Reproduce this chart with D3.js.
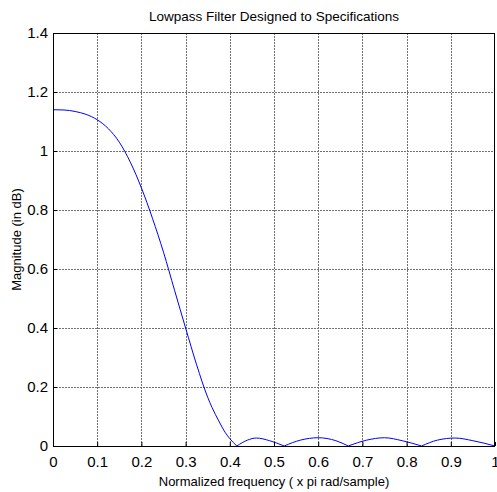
<!DOCTYPE html>
<html>
<head>
<meta charset="utf-8">
<script src="https://cdn.jsdelivr.net/npm/d3@7"></script>
<style>
  body { margin: 0; background: #fff; }
  text { font-family: "Liberation Sans Narrow", "Liberation Sans", Arial, sans-serif; fill: #000; }
</style>
</head>
<body>
<div id="chart"></div>
<script>
// normalized frequency (x pi rad/sample) and magnitude
const freq = [0, 0.025, 0.05, 0.075, 0.1, 0.125, 0.15, 0.175, 0.2, 0.225, 0.25, 0.275,
              0.3, 0.325, 0.35, 0.36, 0.375, 0.39, 0.4, 0.416, 0.44, 0.46, 0.49, 0.523,
              0.56, 0.6, 0.64, 0.668, 0.71, 0.75, 0.79, 0.834, 0.87, 0.91, 0.95, 1.0];
const mag = [1.14, 1.139, 1.134, 1.124, 1.106, 1.076, 1.03, 0.962, 0.875, 0.772, 0.657, 0.528,
             0.40, 0.275, 0.165, 0.13, 0.085, 0.045, 0.025, 0.0, 0.02, 0.027, 0.018, 0.0,
             0.02, 0.028, 0.018, 0.0, 0.02, 0.028, 0.018, 0.0, 0.02, 0.027, 0.018, 0.0];

const xTicks = [0, 0.1, 0.2, 0.3, 0.4, 0.5, 0.6, 0.7, 0.8, 0.9, 1];
const yTicks = [0, 0.2, 0.4, 0.6, 0.8, 1, 1.2, 1.4];

const W = 497, H = 492;
const margin = {top: 33, right: 2, bottom: 46, left: 53};
const width = W - margin.left - margin.right,
      height = H - margin.top - margin.bottom;

const svg = d3.select("#chart")
    .append("svg")
    .attr("width", W)
    .attr("height", H);

const g = svg.append("g")
    .attr("transform", `translate(${margin.left},${margin.top})`);

const x = d3.scaleLinear().domain([0, 1]).range([0, width]);
const y = d3.scaleLinear().domain([0, 1.4]).range([height, 0]);

// grid
g.append("g")
    .selectAll("line")
    .data(xTicks.slice(1, -1))
    .join("line")
    .attr("x1", d => Math.round(x(d)) + 0.5)
    .attr("x2", d => Math.round(x(d)) + 0.5)
    .attr("y1", 0)
    .attr("y2", height)
    .attr("stroke", "#707070")
    .attr("stroke-dasharray", "2,1");

g.append("g")
    .selectAll("line")
    .data(yTicks.slice(1, -1))
    .join("line")
    .attr("y1", d => Math.round(y(d)) + 0.5)
    .attr("y2", d => Math.round(y(d)) + 0.5)
    .attr("x1", 0)
    .attr("x2", width)
    .attr("stroke", "#707070")
    .attr("stroke-dasharray", "2,1");

// the response curve, split at the nulls so they stay sharp
const pts = freq.map((f, i) => ({f: f, m: mag[i]}));
const lobes = [];
let cur = [];
pts.forEach((p, i) => {
    cur.push(p);
    if (p.m === 0 && i > 0 && i < pts.length - 1) {
        lobes.push(cur);
        cur = [p];
    }
});
lobes.push(cur);

const line = d3.line()
    .x(d => x(d.f))
    .y(d => y(d.m))
    .curve(d3.curveMonotoneX);

g.append("path")
    .attr("fill", "none")
    .attr("stroke", "#0000ff")
    .attr("stroke-width", 1)
    .attr("d", lobes.map(l => line(l)).join(""));

// axes (inward ticks like matlab)
const xAxis = g.append("g")
    .attr("transform", `translate(0,${height})`)
    .call(d3.axisBottom(x).tickValues(xTicks).tickSize(-4).tickPadding(10)
        .tickFormat(d => d3.format("~g")(d)));
const yAxis = g.append("g")
    .call(d3.axisLeft(y).tickValues(yTicks).tickSize(-4).tickPadding(5)
        .tickFormat(d => d3.format("~g")(d)));

[xAxis, yAxis].forEach(a => {
    a.select(".domain").remove();
    a.selectAll("text").style("font-size", "15px")
        .style("font-family", "Liberation Sans Narrow, Liberation Sans, Arial, sans-serif");
    a.selectAll("line").attr("stroke", "#000");
});

// frame
g.append("rect")
    .attr("x", 0.5)
    .attr("y", 0.5)
    .attr("width", width - 1)
    .attr("height", height)
    .attr("fill", "none")
    .attr("stroke", "#000");

// titles
svg.append("text")
    .attr("x", margin.left + width / 2)
    .attr("y", 21)
    .attr("text-anchor", "middle")
    .style("font-size", "13.5px")
    .text("Lowpass Filter Designed to Specifications");

svg.append("text")
    .attr("x", margin.left + width / 2)
    .attr("y", 486)
    .attr("text-anchor", "middle")
    .style("font-size", "13px")
    .text("Normalized frequency ( x pi rad/sample)");

svg.append("text")
    .attr("transform", `translate(21,${margin.top + height / 2}) rotate(-90)`)
    .attr("text-anchor", "middle")
    .style("font-size", "13px")
    .text("Magnitude (in dB)");
</script>
</body>
</html>
